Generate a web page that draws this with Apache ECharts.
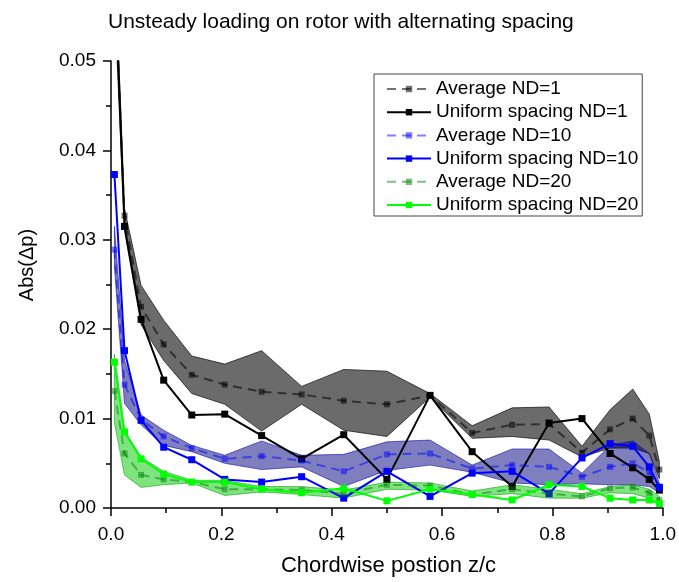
<!DOCTYPE html>
<html>
<head>
<meta charset="utf-8">
<script src="https://cdn.jsdelivr.net/npm/echarts@6/dist/echarts.min.js"></script>
<style>
  html, body { margin: 0; padding: 0; background: #fff; }
  #chart { width: 679px; height: 582px; }
</style>
</head>
<body>
<div id="chart"></div>
<script>
// Chordwise stations z/c
const xPos = [0.0062, 0.0245, 0.0545, 0.0955, 0.1464, 0.2061, 0.2730, 0.3455, 0.4218, 0.5000,
              0.5782, 0.6545, 0.7270, 0.7939, 0.8536, 0.9045, 0.9455, 0.9755, 0.9938];

// ND = 1
const avg1  = [0.0600, 0.0327, 0.0225, 0.0183, 0.0149, 0.0138, 0.0130, 0.0127, 0.0120, 0.0116,
               0.0126, 0.0084, 0.0093, 0.0094, 0.0062, 0.0088, 0.0100, 0.0081, 0.0043];
const uni1  = [0.0610, 0.0315, 0.0211, 0.0143, 0.0104, 0.0105, 0.0081, 0.0055, 0.0082, 0.0032,
               0.0126, 0.0063, 0.0024, 0.0095, 0.0100, 0.0061, 0.0045, 0.0032, 0.0020];
const hi1   = [0.0630, 0.0335, 0.0249, 0.0210, 0.0170, 0.0161, 0.0176, 0.0136, 0.0155, 0.0153,
               0.0128, 0.0092, 0.0112, 0.0113, 0.0069, 0.0110, 0.0133, 0.0105, 0.0052];
const lo1   = [0.0570, 0.0310, 0.0205, 0.0165, 0.0128, 0.0116, 0.0086, 0.0116, 0.0087, 0.0080,
               0.0124, 0.0078, 0.0080, 0.0076, 0.0057, 0.0067, 0.0067, 0.0061, 0.0033];

// ND = 10
const avg10 = [0.0289, 0.0138, 0.0099, 0.0080, 0.0067, 0.0055, 0.0058, 0.0053, 0.0041, 0.0060,
               0.0061, 0.0044, 0.0048, 0.0046, 0.0035, 0.0046, 0.0050, 0.0040, 0.0024];
const uni10 = [0.0373, 0.0176, 0.0098, 0.0068, 0.0054, 0.0032, 0.0029, 0.0035, 0.0011, 0.0041,
               0.0013, 0.0039, 0.0041, 0.0016, 0.0056, 0.0072, 0.0069, 0.0046, 0.0023];
const hi10  = [0.0315, 0.0165, 0.0104, 0.0087, 0.0070, 0.0059, 0.0075, 0.0059, 0.0060, 0.0074,
               0.0076, 0.0048, 0.0066, 0.0066, 0.0039, 0.0070, 0.0075, 0.0061, 0.0028];
const lo10  = [0.0270, 0.0117, 0.0093, 0.0070, 0.0063, 0.0050, 0.0043, 0.0046, 0.0024, 0.0042,
               0.0048, 0.0040, 0.0028, 0.0026, 0.0027, 0.0026, 0.0026, 0.0024, 0.0017];

// ND = 20
const avg20 = [0.0131, 0.0061, 0.0037, 0.0032, 0.0029, 0.0021, 0.0021, 0.0020, 0.0016, 0.0026,
               0.0025, 0.0015, 0.0021, 0.0016, 0.0013, 0.0022, 0.0023, 0.0017, 0.0009];
const uni20 = [0.0163, 0.0085, 0.0055, 0.0038, 0.0029, 0.0029, 0.0021, 0.0017, 0.0022, 0.0008,
               0.0021, 0.0015, 0.0009, 0.0026, 0.0024, 0.0011, 0.0009, 0.0009, 0.0005];
const hi20  = [0.0172, 0.0087, 0.0057, 0.0041, 0.0031, 0.0031, 0.0024, 0.0024, 0.0020, 0.0029,
               0.0028, 0.0019, 0.0026, 0.0021, 0.0016, 0.0024, 0.0026, 0.0021, 0.0013];
const lo20  = [0.0095, 0.0037, 0.0023, 0.0026, 0.0028, 0.0014, 0.0018, 0.0015, 0.0011, 0.0021,
               0.0020, 0.0013, 0.0016, 0.0011, 0.0011, 0.0017, 0.0016, 0.0011, 0.0005];

const seriesNames = ['Average ND=1', 'Uniform spacing ND=1', 'Average ND=10',
                     'Uniform spacing ND=10', 'Average ND=20', 'Uniform spacing ND=20'];

const FONT = 'Liberation Sans, Arial, Helvetica, sans-serif';

function pairs(ys) { return xPos.map((x, i) => [x, ys[i]]); }

// Shaded min/max envelope drawn as one polygon through the axis scales
function band(hi, lo, fill, edge) {
  return {
    type: 'custom',
    silent: true,
    clip: true,
    data: [0],
    renderItem: function (params, api) {
      const top = xPos.map((x, i) => api.coord([x, hi[i]]));
      const bot = xPos.map((x, i) => api.coord([x, lo[i]])).reverse();
      return {
        type: 'polygon',
        shape: { points: top.concat(bot) },
        style: { fill: fill, stroke: edge, lineWidth: 1 }
      };
    }
  };
}

function avgLine(name, ys, color) {
  return {
    type: 'line', name: name, data: pairs(ys),
    symbol: 'rect', symbolSize: 6,
    lineStyle: { color: color, width: 2, type: [9, 6] },
    itemStyle: { color: color },
    emphasis: { disabled: true }
  };
}

function uniLine(name, ys, color) {
  return {
    type: 'line', name: name, data: pairs(ys),
    symbol: 'rect', symbolSize: 7,
    lineStyle: { color: color, width: 2 },
    itemStyle: { color: color },
    emphasis: { disabled: true }
  };
}

const chart = echarts.init(document.getElementById('chart'), null, { renderer: 'canvas' });

chart.setOption({
  animation: false,
  backgroundColor: '#fff',
  textStyle: { fontFamily: FONT },
  title: {
    text: 'Unsteady loading on rotor with alternating spacing',
    left: 103, top: 7,
    textStyle: { fontFamily: FONT, fontSize: 21, fontWeight: 'normal', color: '#000' }
  },
  grid: { left: 111, right: 13, top: 61, bottom: 74 },
  legend: {
    data: seriesNames,
    orient: 'vertical',
    left: 374, top: 74,
    padding: [5, 4, 1, 12],
    itemGap: 3.2,
    itemWidth: 44, itemHeight: 8,
    backgroundColor: '#fff',
    borderColor: '#444', borderWidth: 1,
    textStyle: { fontFamily: FONT, fontSize: 19, color: '#000', lineHeight: 20 }
  },
  xAxis: {
    type: 'value', min: 0, max: 1, interval: 0.2,
    axisLine: { show: true, onZero: false, lineStyle: { color: '#000', width: 1.5 } },
    axisTick: { show: true, inside: false, length: 8, lineStyle: { color: '#000', width: 1.5 } },
    minorTick: { show: true, splitNumber: 2, length: 5, lineStyle: { color: '#000', width: 1.5 } },
    splitLine: { show: false },
    axisLabel: { color: '#000', fontSize: 19, fontFamily: FONT, margin: 17,
                 formatter: v => v.toFixed(1) }
  },
  yAxis: {
    type: 'value', min: 0, max: 0.05, interval: 0.01,
    axisLine: { show: true, onZero: false, lineStyle: { color: '#000', width: 1.5 } },
    axisTick: { show: true, inside: false, length: 8, lineStyle: { color: '#000', width: 1.5 } },
    minorTick: { show: true, splitNumber: 2, length: 5, lineStyle: { color: '#000', width: 1.5 } },
    splitLine: { show: false },
    axisLabel: { color: '#000', fontSize: 19, fontFamily: FONT, margin: 15,
                 formatter: v => v.toFixed(2) }
  },
  graphic: [
    {
      type: 'text', x: 27, y: 265, rotation: Math.PI / 2,
      style: { text: 'Abs(\u0394p)', fill: '#000', font: '20px ' + FONT,
               textAlign: 'center', textVerticalAlign: 'middle' }
    },
    {
      type: 'text', x: 388.5, y: 566,
      style: { text: 'Chordwise postion z/c', fill: '#000', font: '22px ' + FONT,
               textAlign: 'center', textVerticalAlign: 'middle' }
    }
  ],
  series: [
    band(hi1, lo1, 'rgba(0,0,0,0.58)', 'rgba(0,0,0,0.65)'),
    avgLine(seriesNames[0], avg1, 'rgba(0,0,0,0.55)'),
    uniLine(seriesNames[1], uni1, '#000000'),
    band(hi10, lo10, 'rgba(0,0,128,0.5)', 'rgba(0,0,160,0.55)'),
    avgLine(seriesNames[2], avg10, 'rgba(0,0,255,0.5)'),
    uniLine(seriesNames[3], uni10, '#0000ff'),
    band(hi20, lo20, 'rgba(0,200,0,0.5)', 'rgba(0,160,0,0.55)'),
    avgLine(seriesNames[4], avg20, 'rgba(0,128,0,0.5)'),
    uniLine(seriesNames[5], uni20, '#00ff00')
  ]
});
</script>
</body>
</html>
